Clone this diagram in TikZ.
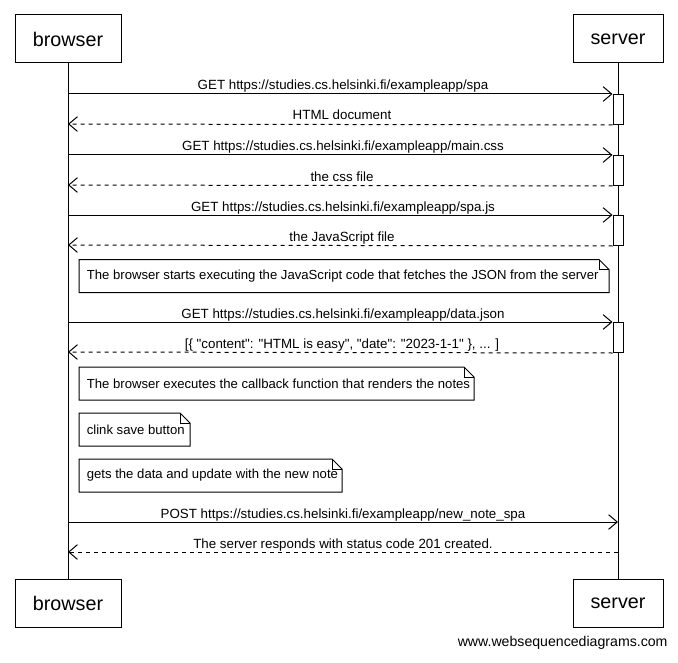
\documentclass[tikz,border=0pt]{standalone}
\usepackage{fontspec}
\setmainfont{Liberation Sans}[Ligatures=TeXOff]
\usetikzlibrary{arrows.meta,calc}
\newcommand{\pxu}{0.75pt}

\begin{document}
\begin{tikzpicture}[x=0.75pt,y=-0.75pt,
  line width=0.75pt,
  actor/.style={draw, minimum height=48*\pxu, font=\fontsize{14.8}{17}\selectfont, inner sep=0},
  act/.style={draw, fill=white, minimum width=10*\pxu, minimum height=30*\pxu, inner sep=0, anchor=north},
  msg/.style={-{Straight Barb[length=6.5pt,width=11pt]}},
  reply/.style={msg, dash pattern=on 3pt off 3pt},
  lbl/.style={font=\fontsize{10}{12}\selectfont, anchor=base, inner sep=0},
  note/.style={font=\fontsize{9.85}{12}\selectfont, anchor=north west, inner sep=0, minimum height=32*\pxu},
  wm/.style={font=\fontsize{10.6}{12}\selectfont, anchor=base east, inner sep=0},
]
\useasboundingbox (0,0) rectangle (678,663);

% participants
\node[actor, minimum width=106*\pxu] (bt) at (68,39) {browser};
\node[actor, minimum width=90*\pxu]  (st) at (618,39) {server};
\node[actor, minimum width=106*\pxu] (bb) at (68,603) {browser};
\node[actor, minimum width=90*\pxu]  (sb) at (618,603) {server};

% lifelines
\draw (bt) -- (bb);
\draw (st) -- (sb);

% activation bars on the server
\node[act] (a1) at (618,94) {};
\node[act] (a2) at (618,155) {};
\node[act] (a3) at (618,215) {};
\node[act] (a4) at (618,322) {};

% message end points on the lifelines
\coordinate (m1) at (68,94);
\coordinate (r1) at (68,124);
\coordinate (m2) at (68,155);
\coordinate (r2) at (68,185);
\coordinate (m3) at (68,215);
\coordinate (r3) at (68,245);
\coordinate (m4) at (68,322);
\coordinate (r4) at (68,352);
\coordinate (m5) at (68,522);
\coordinate (s5) at (618,522);
\coordinate (r5) at (68,552);
\coordinate (s6) at (618,552);

% messages
\draw[msg] (m1) -- (a1.north west);
\draw[reply] (a1.south west) -- (r1);
\draw[msg] (m2) -- (a2.north west);
\draw[reply] (a2.south west) -- (r2);
\draw[msg] (m3) -- (a3.north west);
\draw[reply] (a3.south west) -- (r3);
\draw[msg] (m4) -- (a4.north west);
\draw[reply] (a4.south west) -- (r4);
\draw[msg] (m5) -- (s5);
\draw[reply] (s6) -- (r5);

% message labels
\node[lbl] (l1) at (343,90) {GET https://studies.cs.helsinki.fi/exampleapp/spa};
\node[lbl] (l2) at (342,120) {HTML document};
\node[lbl] (l3) at (343,151) {GET https://studies.cs.helsinki.fi/exampleapp/main.css};
\node[lbl] (l4) at (342,181) {the css file};
\node[lbl] (l5) at (343,211) {GET https://studies.cs.helsinki.fi/exampleapp/spa.js};
\node[lbl] (l6) at (342,241) {the JavaScript file};
\node[lbl] (l7) at (343,318) {GET https://studies.cs.helsinki.fi/exampleapp/data.json};
\node[lbl] (l8) at (342,348) {[\{ "content": "HTML is easy", "date": "2023-1-1" \}, ... ]};
\node[lbl] (l9) at (343,518) {POST https://studies.cs.helsinki.fi/exampleapp/new\_note\_spa};
\node[lbl] (l10) at (343,548) {The server responds with status code 201 created.};

% notes
\node[note] (n1) at (79,259.5) {\makebox[396.75pt][l]{\hspace{5.5pt}The browser starts executing the JavaScript code that fetches the JSON from the server}};
\node[note] (n2) at (79,367) {\makebox[295.5pt][l]{\hspace{5.5pt}The browser executes the callback function that renders the notes}};
\node[note] (n3) at (79,413) {\makebox[82.5pt][l]{\hspace{5.5pt}clink save button}};
\node[note] (n4) at (79,459) {\makebox[196.5pt][l]{\hspace{5.5pt}gets the data and update with the new note}};

% note outlines with a folded corner
\foreach \n in {n1,n2,n3,n4} {
  \draw (\n.south west) -- (\n.north west) -- ($(\n.north east)+(-10,0)$)
        -- ($(\n.north east)+(0,10)$) -- (\n.south east) -- cycle;
  \draw ($(\n.north east)+(-10,0)$) |- ($(\n.north east)+(0,10)$);
}

\node[wm] (wm) at (668,646) {www.websequencediagrams.com};
\end{tikzpicture}
\end{document}
